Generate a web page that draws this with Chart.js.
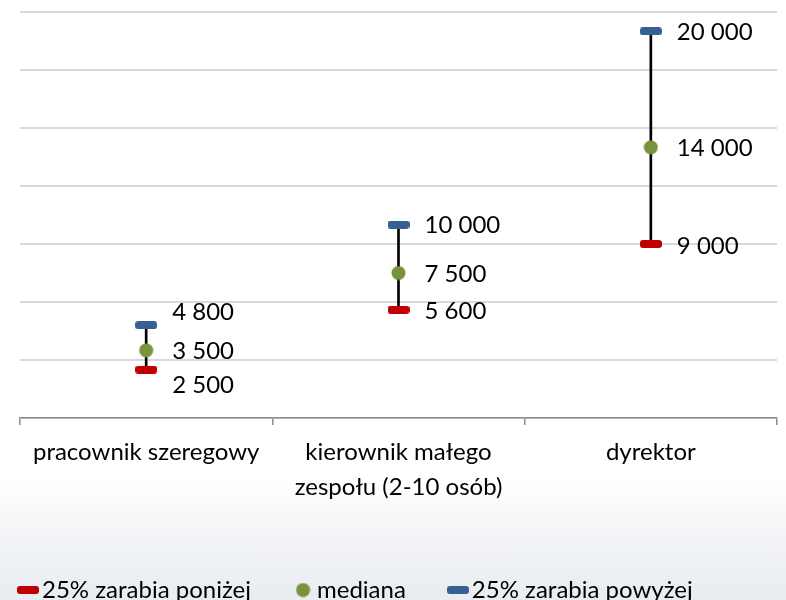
<!DOCTYPE html>
<html>
<head>
<meta charset="utf-8">
<script src="https://cdn.jsdelivr.net/npm/chart.js@4.4.1/dist/chart.umd.min.js"></script>
<style>
  html, body { margin: 0; padding: 0; overflow: hidden; }
  body {
    width: 786px; height: 600px;
    background: linear-gradient(to bottom, #ffffff 0px, #ffffff 480px, #f1f3f6 540px, #e9ecf0 600px);
  }
  #wrap { position: relative; width: 786px; height: 613px; }
</style>
</head>
<body>
<div id="wrap"><canvas id="salaryChart"></canvas></div>
<script>
// data
var categories = [['pracownik szeregowy'], ['kierownik małego', 'zespołu (2-10 osób)'], ['dyrektor']];
var seriesNames = ['25% zarabia poniżej', 'mediana', '25% zarabia powyżej'];
var lowValues = [2500, 5600, 9000];
var medianValues = [3500, 7500, 14000];
var highValues = [4800, 10000, 20000];
var yMin = 0, yMax = 21000, yStep = 3000;

var FONT = 'Lato';
var RED = '#c00000', GREEN = '#77933c', BLUE = '#376092';

// vertical nudges for the value labels (layout only)
var lowNudge = [16, 2, 2];
var medNudge = [1, 1, 1];
var highNudge = [-13, 1, 1];

function dash(color) {
  var c = document.createElement('canvas');
  c.width = 22; c.height = 8;
  var g = c.getContext('2d');
  var r = 3, w = 22, h = 8;
  g.fillStyle = color;
  g.beginPath();
  g.moveTo(r, 0); g.lineTo(w - r, 0); g.quadraticCurveTo(w, 0, w, r);
  g.lineTo(w, h - r); g.quadraticCurveTo(w, h, w - r, h);
  g.lineTo(r, h); g.quadraticCurveTo(0, h, 0, h - r);
  g.lineTo(0, r); g.quadraticCurveTo(0, 0, r, 0);
  g.fill();
  return c;
}
function dot(color) {
  var c = document.createElement('canvas');
  c.width = 15; c.height = 15;
  var g = c.getContext('2d');
  g.fillStyle = color;
  g.beginPath(); g.arc(7.5, 7.5, 7, 0, Math.PI * 2); g.fill();
  return c;
}

function fmt(v) {
  return String(v).replace(/\B(?=(\d{3})+(?!\d))/g, ' ');
}

var valueLabels = {
  id: 'valueLabels',
  afterDatasetsDraw: function (chart) {
    var ctx = chart.ctx;
    ctx.save();
    ctx.font = '24px ' + FONT;
    ctx.fillStyle = '#000';
    ctx.textAlign = 'left';
    ctx.textBaseline = 'middle';
    chart.data.datasets.forEach(function (ds, i) {
      if (!ds.nudge) return;
      chart.getDatasetMeta(i).data.forEach(function (pt, j) {
        ctx.fillText(fmt(ds.data[j]), pt.x + 26, pt.y + ds.nudge[j]);
      });
    });
    ctx.restore();
  }
};

var ranges = lowValues.map(function (v, i) { return [v, highValues[i]]; });

var ctx = document.getElementById('salaryChart');
var myChart = new Chart(ctx, {
  type: 'bar',
  data: {
    labels: categories,
    datasets: [
      {
        type: 'bar', label: 'range', data: ranges,
        backgroundColor: '#000', barThickness: 2, order: 10
      },
      {
        type: 'line', label: seriesNames[0], data: lowValues, showLine: false,
        pointStyle: dash(RED), pointRadius: 8, backgroundColor: RED, borderColor: RED,
        nudge: lowNudge, order: 1
      },
      {
        type: 'line', label: seriesNames[1], data: medianValues, showLine: false,
        pointStyle: dot(GREEN), pointRadius: 8, backgroundColor: GREEN, borderColor: GREEN,
        nudge: medNudge, order: 1
      },
      {
        type: 'line', label: seriesNames[2], data: highValues, showLine: false,
        pointStyle: dash(BLUE), pointRadius: 8, backgroundColor: BLUE, borderColor: BLUE,
        nudge: highNudge, order: 1
      }
    ]
  },
  options: {
    responsive: true,
    maintainAspectRatio: false,
    animation: false,
    layout: { padding: { left: -24, right: 2, top: 12, bottom: 1 } },
    scales: {
      x: {
        grid: { drawOnChartArea: false, drawTicks: true, tickLength: 7, color: '#8c8c8c', lineWidth: 1.5 },
        border: { color: '#8c8c8c', width: 1.5 },
        ticks: { color: '#000', padding: 10, font: { family: FONT, size: 24, lineHeight: 1.45 }, maxRotation: 0 },
        afterFit: function (scale) { scale.height = 110; }
      },
      y: {
        min: yMin, max: yMax,
        ticks: { display: false, stepSize: yStep },
        grid: { color: '#d9d9d9', lineWidth: 2, drawTicks: false },
        border: { display: false },
        afterFit: function (scale) { scale.width = 44; }
      }
    },
    plugins: {
      tooltip: { enabled: false },
      legend: {
        position: 'bottom',
        align: 'start',
        labels: {
          usePointStyle: true,
          pointStyleWidth: 4,
          padding: 50,
          color: '#000',
          font: { family: FONT, size: 24 },
          filter: function (item) { return item.datasetIndex > 0; }
        }
      }
    }
  },
  plugins: [valueLabels]
});
</script>
</body>
</html>
